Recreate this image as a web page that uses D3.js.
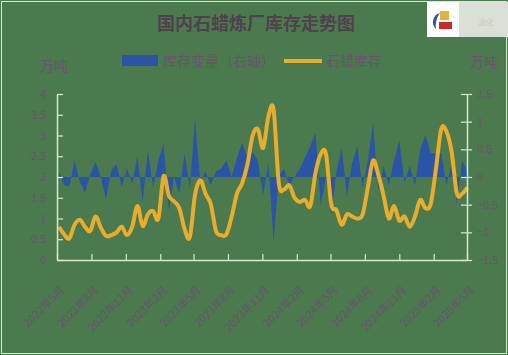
<html>
<head>
<meta charset="utf-8">
<script src="https://d3js.org/d3.v7.min.js"></script>
<style>
body { margin: 0; }
svg { display: block; font-family: 'Noto Sans CJK SC', 'Noto Sans', sans-serif; }
</style>
</head>
<body>
<div id="chart"></div>
<script>

// ---- data (bi-weekly) ----
var dates = [
  "2022-05-06","2022-05-20","2022-06-03","2022-06-17","2022-07-01","2022-07-15","2022-07-29","2022-08-12",
  "2022-08-26","2022-09-09","2022-09-23","2022-10-07","2022-10-21","2022-11-04","2022-11-18","2022-12-02",
  "2022-12-16","2022-12-30","2023-01-13","2023-01-27","2023-02-10","2023-02-24","2023-03-10","2023-03-24",
  "2023-04-07","2023-04-21","2023-05-05","2023-05-19","2023-06-02","2023-06-16","2023-06-30","2023-07-14",
  "2023-07-28","2023-08-11","2023-08-25","2023-09-08","2023-09-22","2023-10-06","2023-10-20","2023-11-03",
  "2023-11-17","2023-12-01","2023-12-15","2023-12-29","2024-01-12","2024-01-26","2024-02-09","2024-02-23",
  "2024-03-08","2024-03-22","2024-04-05","2024-04-19","2024-05-03","2024-05-17","2024-05-31","2024-06-14",
  "2024-06-28","2024-07-12","2024-07-26","2024-08-09","2024-08-23","2024-09-06","2024-09-20","2024-10-04",
  "2024-10-18","2024-11-01","2024-11-15","2024-11-29","2024-12-13","2024-12-27","2025-01-10","2025-01-24",
  "2025-02-07","2025-02-21","2025-03-07","2025-03-21","2025-04-04","2025-04-18","2025-05-02"
];

// 石蜡库存 (left axis, 万吨)
var stock = [
  0.80,0.62,0.52,0.85,0.97,0.80,0.70,1.05,
  0.78,0.58,0.60,0.66,0.80,0.60,0.80,1.30,
  0.82,1.10,1.18,1.00,2.02,1.55,1.41,1.25,
  0.75,0.55,1.57,1.92,1.60,1.35,0.70,0.60,
  0.62,1.05,1.60,1.85,2.30,3.00,3.15,2.70,
  3.45,3.62,1.85,1.70,1.80,1.50,1.40,1.45,
  1.30,2.10,2.55,2.55,1.35,1.20,0.85,1.10,
  1.05,1.00,1.10,1.75,2.40,2.05,1.55,1.00,
  1.30,0.95,1.05,0.80,1.05,1.45,1.25,1.35,
  2.20,3.15,3.10,2.60,1.60,1.60,1.75
];

// 库存变量 (right axis, 万吨)
var change = [
  0.10,-0.15,-0.17,0.30,-0.08,-0.28,0.05,0.27,
  0.00,-0.40,0.12,0.23,-0.18,0.15,-0.12,0.37,
  -0.45,0.49,-0.20,0.30,0.60,-0.60,0.00,-0.30,
  0.43,-0.20,1.03,-0.10,0.10,-0.15,0.10,0.15,
  0.30,0.00,0.35,0.62,0.35,0.45,0.30,-0.33,
  0.25,-1.17,0.02,0.15,-0.15,0.00,0.15,0.35,
  0.55,0.80,-0.50,0.00,-0.70,0.10,0.52,-0.35,
  0.25,0.55,-0.20,0.30,0.97,-0.25,0.20,-0.15,
  0.30,0.66,-0.10,0.20,-0.15,0.50,0.76,0.43,
  0.43,0.43,-0.15,0.25,-0.50,0.30,0.10
];

var tickMonths = ["2022-05","2022-08","2022-11","2023-02","2023-05","2023-08","2023-11",
                  "2024-02","2024-05","2024-08","2024-11","2025-02","2025-05"];
var leftTicks = [0,0.5,1,1.5,2,2.5,3,3.5,4];
var rightTicks = [-1.5,-1,-0.5,0,0.5,1,1.5];

var W = 508, H = 355;
var bg = "#4b7a4f", axisCol = "#d6ecd2", textCol = "#67566a", titleCol = "#52404f";
var blue = "#2b53a6", orange = "#e9ad2d";

var svg = d3.select("#chart").append("svg").attr("width", W).attr("height", H);
svg.append("rect").attr("width", W).attr("height", H).attr("fill", bg);
svg.append("rect").attr("x", 1.5).attr("y", 1.5).attr("width", W - 3).attr("height", H - 3)
  .attr("fill", "none").attr("stroke", axisCol).attr("stroke-width", 1);

var parseDay = d3.timeParse("%Y-%m-%d"), parseMonth = d3.timeParse("%Y-%m");
var x = d3.scaleTime().domain([parseMonth("2022-05"), parseMonth("2025-05")]).range([57, 467]);
var yL = d3.scaleLinear().domain([0, 4]).range([260, 94]);
var yR = d3.scaleLinear().domain([-1.5, 1.5]).range([260, 94]);

var rows = dates.map(function(d, i) { return {date: parseDay(d), stock: stock[i], change: change[i]}; });

// title
svg.append("text").attr("x", 256).attr("y", 30).attr("text-anchor", "middle")
  .attr("font-size", 18).attr("font-weight", "bold").attr("fill", titleCol)
  .text("国内石蜡炼厂库存走势图");

// legend
svg.append("rect").attr("x", 122).attr("y", 55).attr("width", 36).attr("height", 11).attr("fill", blue);
svg.append("text").attr("x", 163).attr("y", 66).attr("font-size", 14).attr("fill", textCol).text("库存变量（右轴）");
svg.append("line").attr("x1", 284).attr("x2", 322).attr("y1", 61).attr("y2", 61)
  .attr("stroke", orange).attr("stroke-width", 4);
svg.append("text").attr("x", 326).attr("y", 66).attr("font-size", 14).attr("fill", textCol).text("石蜡库存");

// units
svg.append("text").attr("x", 40).attr("y", 71).attr("font-size", 14).attr("fill", textCol).text("万吨");
svg.append("text").attr("x", 470).attr("y", 67).attr("font-size", 14).attr("fill", textCol).text("万吨");

// blue area
var area = d3.area()
  .x(function(d) { return x(d.date); })
  .y0(yR(0))
  .y1(function(d) { return yR(d.change); });
svg.append("path").datum(rows).attr("d", area).attr("fill", blue);

// orange smoothed line
var line = d3.line()
  .x(function(d) { return x(d.date); })
  .y(function(d) { return yL(d.stock); })
  .curve(d3.curveCatmullRom.alpha(0));
svg.append("path").datum(rows).attr("d", line).attr("fill", "none")
  .attr("stroke", orange).attr("stroke-width", 4).attr("stroke-linejoin", "round");

// axes
function styleAxis(g) {
  g.selectAll(".domain").attr("stroke", axisCol).attr("stroke-width", 1.5);
  g.selectAll(".tick line").attr("stroke", axisCol).attr("stroke-width", 1.2);
  g.selectAll("text").attr("fill", textCol).attr("font-size", 11)
    .attr("font-family", "'Noto Sans CJK SC', sans-serif");
}

var gl = svg.append("g").attr("transform", "translate(57,0)")
  .call(d3.axisRight(yL).tickValues(leftTicks).tickSize(6).tickSizeOuter(0).tickFormat(d3.format("")));
gl.selectAll("text").attr("x", -11).attr("text-anchor", "end");
styleAxis(gl);

var gr = svg.append("g").attr("transform", "translate(467,0)")
  .call(d3.axisRight(yR).tickValues(rightTicks).tickSize(5).tickSizeOuter(0).tickFormat(d3.format("")));
gr.selectAll(".tick line").attr("x1", -6);
gr.selectAll("text").attr("x", 10);
styleAxis(gr);

var gb = svg.append("g").attr("transform", "translate(0,260)")
  .call(d3.axisTop(x).tickValues(tickMonths.map(parseMonth)).tickSize(6).tickSizeOuter(0)
    .tickFormat(function(d) { return d.getFullYear() + "年" + (d.getMonth() + 1) + "月"; }));
gb.selectAll("text")
  .attr("text-anchor", "end")
  .attr("transform", "translate(5,28) rotate(-45)")
  .attr("y", 0).attr("dy", "0.35em");
styleAxis(gb);

// logo box (top right)
var logo = svg.append("g");
logo.append("rect").attr("x", 427).attr("y", 2).attr("width", 81).attr("height", 35).attr("fill", "#d9e0d6");
logo.append("rect").attr("x", 427).attr("y", 2).attr("width", 32).attr("height", 35).attr("fill", "#ffffff");
logo.append("path").attr("d", "M440,13 C432,15 431,25 436,29 C435,23 437,17 440,13 Z").attr("fill", "#2a55a8");
logo.append("rect").attr("x", 440).attr("y", 11).attr("width", 9).attr("height", 9).attr("fill", "#e3b23c");
logo.append("rect").attr("x", 439).attr("y", 22).attr("width", 13).attr("height", 7).attr("fill", "#cc2a2a");
logo.append("text").attr("x", 478).attr("y", 25).attr("font-size", 8).attr("fill", "#c4cbc2").text("油化");

</script>
</body>
</html>
